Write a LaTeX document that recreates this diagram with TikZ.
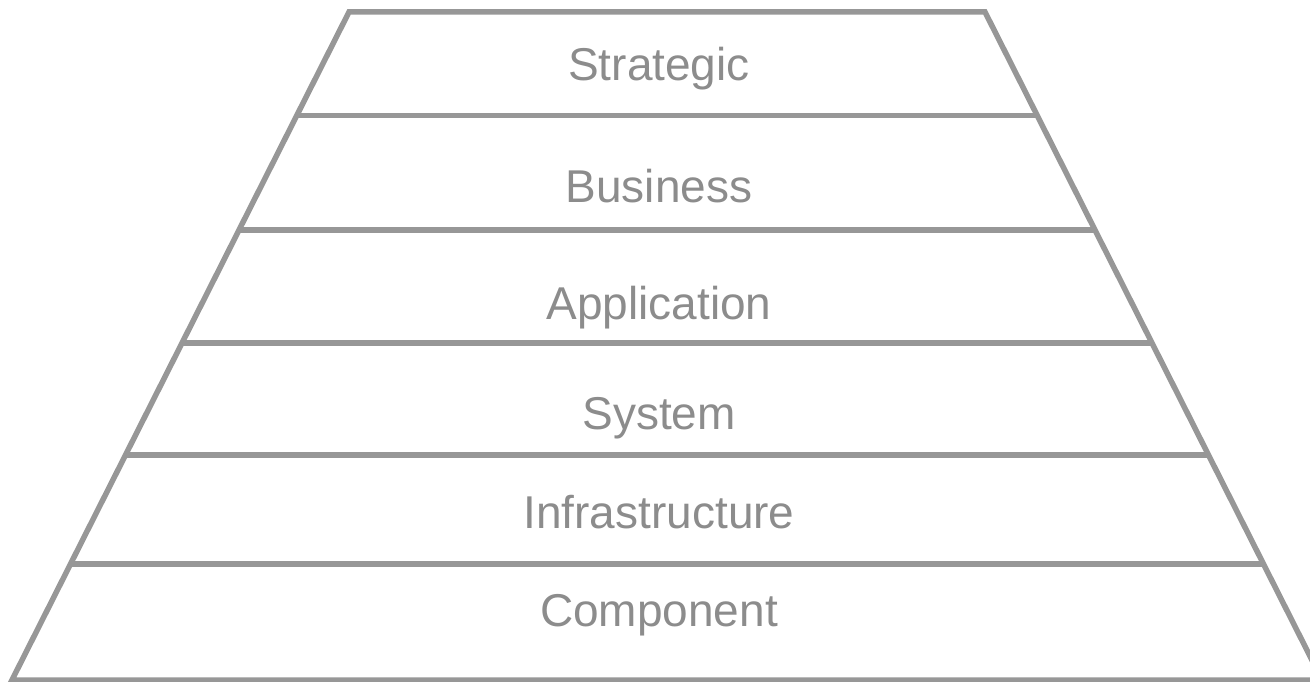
\documentclass[tikz,border=0pt]{standalone}
\usepackage{fontspec}
\setmainfont{Liberation Sans}
\definecolor{edge}{HTML}{979797}
\definecolor{txt}{HTML}{8C8C8C}
\begin{document}
\begin{tikzpicture}[x=1pt,y=-1pt,
  edgeline/.style={draw=edge,line width=5.5pt,line join=miter},
  layerlabel/.style={text=txt,font=\fontsize{46}{50}\selectfont,inner sep=0pt,anchor=base}]
\useasboundingbox (0,0) rectangle (1310,682);
\clip (0,0) rectangle (1310,682);
\coordinate (TL) at (349,12);
\coordinate (TR) at (985,12);
\coordinate (BL) at (12,680);
\coordinate (BR) at (1322,680);
\draw[edgeline] (BL) -- (TL) -- (TR) -- (BR) -- cycle;
\foreach \y/\n in {115.5/a,230/b,343/c,455/d,564/e}{
  \coordinate (L\n) at ({349-0.50449*(\y-12)},\y);
  \coordinate (R\n) at ({985+0.50449*(\y-12)},\y);
  \draw[edgeline] (L\n) -- (R\n);
}
\node[layerlabel] (strategic) at (659,81) {Strategic};
\node[layerlabel] (business) at (659,203) {Business};
\node[layerlabel] (application) at (659,319) {Application};
\node[layerlabel] (system) at (659,429) {System};
\node[layerlabel] (infra) at (659,528) {Infrastructure};
\node[layerlabel] (component) at (659,626) {Component};
\end{tikzpicture}
\end{document}
